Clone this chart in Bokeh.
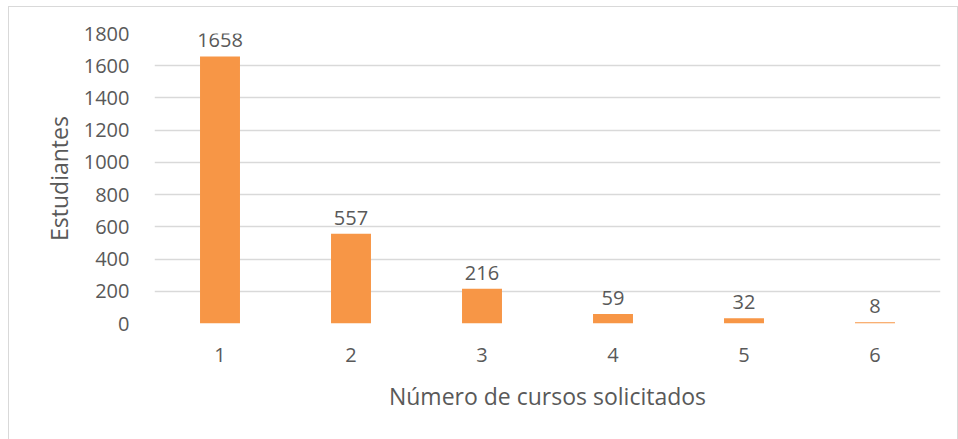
from bokeh.plotting import figure
from bokeh.models import ColumnDataSource, LabelSet, FixedTicker, Range1d
from bokeh.core.properties import value
from bokeh.embed import file_html
from bokeh.resources import INLINE

categories = ["1", "2", "3", "4", "5", "6"]
students = [1658, 557, 216, 59, 32, 8]
y_ticks = [0, 200, 400, 600, 800, 1000, 1200, 1400, 1600, 1800]

FONT = "Open Sans"
TXT = "#595959"

source = ColumnDataSource(dict(cat=categories, val=students, lbl=[str(v) for v in students]))

p = figure(x_range=categories, y_range=Range1d(0, 1800), width=950, height=436,
           output_backend="svg", toolbar_location=None,
           min_border_left=145, min_border_right=19, min_border_top=26, min_border_bottom=120)
p.styles = {"border": "1px solid #d9d9d9", "box-sizing": "border-box",
            "margin-left": "8px", "margin-top": "6px"}
p.outline_line_color = None
p.background_fill_color = "white"
p.border_fill_color = "white"

p.vbar(x="cat", top="val", width=0.305, source=source, color="#F79646", line_color=None)

labels = LabelSet(x="cat", y="val", text="lbl", source=source, text_align="center",
                  text_baseline="alphabetic", y_offset=9, text_font=value(FONT),
                  text_font_size=value("20px"), text_color=TXT)
p.add_layout(labels)

p.xgrid.grid_line_color = None
p.ygrid.grid_line_color = "#d9d9d9"
p.ygrid.grid_line_width = 1.5
p.ygrid.ticker = FixedTicker(ticks=y_ticks)
p.yaxis.ticker = FixedTicker(ticks=y_ticks)

for ax in (p.xaxis, p.yaxis):
    ax.axis_line_color = None
    ax.major_tick_line_color = None
    ax.minor_tick_line_color = None
    ax.major_label_text_font = FONT
    ax.major_label_text_font_size = "20px"
    ax.major_label_text_color = TXT
    ax.axis_label_text_font = FONT
    ax.axis_label_text_font_size = "23px"
    ax.axis_label_text_color = TXT
    ax.axis_label_text_font_style = "normal"

p.xaxis.major_label_standoff = 18
p.yaxis.major_label_standoff = 19
p.xaxis.axis_label = "Número de cursos solicitados"
p.yaxis.axis_label = "Estudiantes"
p.xaxis.axis_label_standoff = 15
p.yaxis.axis_label_standoff = 6

open("out.html", "w").write(file_html(p, INLINE))
